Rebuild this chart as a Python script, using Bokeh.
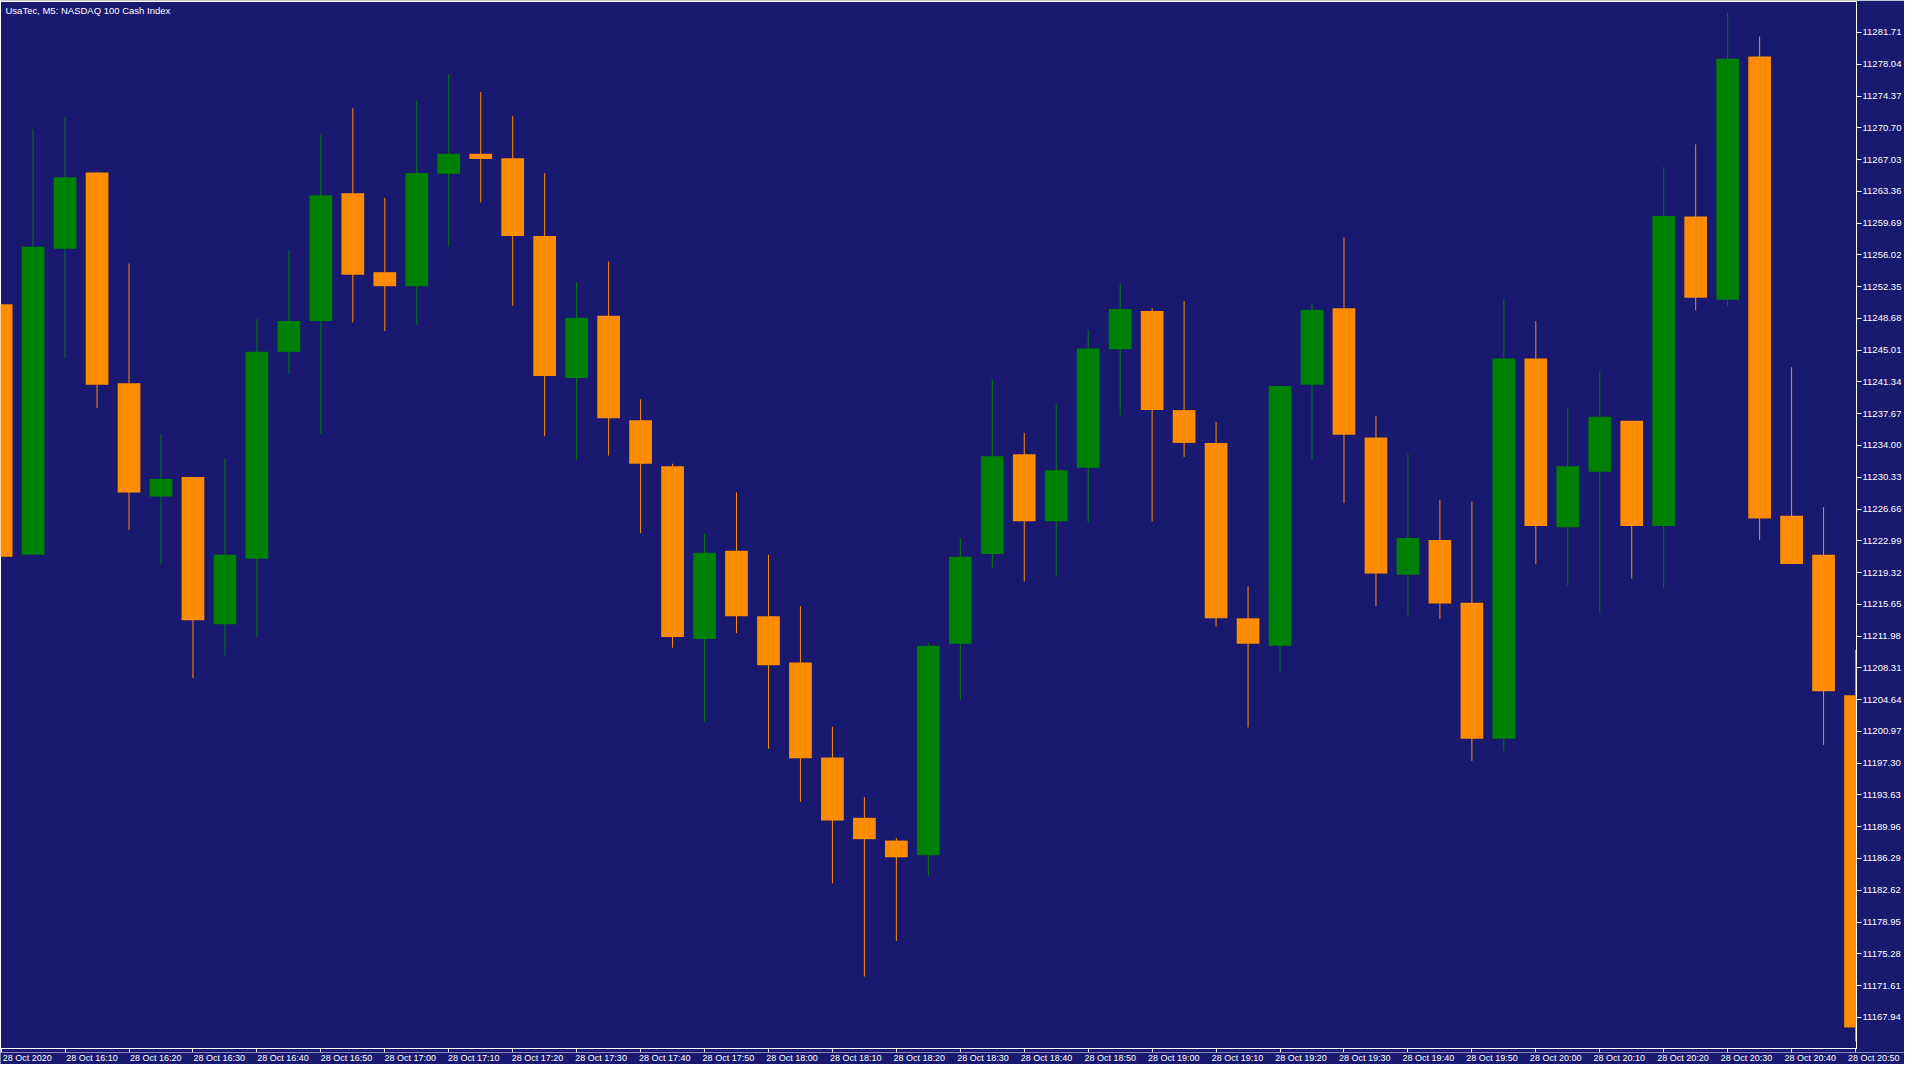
from bokeh.plotting import figure
from bokeh.layouts import column
from bokeh.models import Range1d, FixedTicker, PrintfTickFormatter, Label, ColumnDataSource
from bokeh.core.properties import value
from bokeh.embed import file_html
from bokeh.resources import INLINE

chart_title = "UsaTec, M5:  NASDAQ 100 Cash Index"

opens = [11250.31, 11221.39, 11256.73, 11265.55, 11241.18, 11228.11, 11230.36, 11213.34, 11220.92, 11244.82,
         11248.38, 11263.15, 11254.02, 11252.40, 11265.39, 11267.71, 11267.17, 11258.20, 11241.80, 11249.00,
         11236.93, 11231.59, 11211.64, 11221.85, 11214.27, 11208.93, 11197.95, 11190.99, 11188.36, 11186.66,
         11211.10, 11221.46, 11232.99, 11225.25, 11231.44, 11245.13, 11249.54, 11238.09, 11234.30, 11214.04,
         11210.87, 11241.03, 11249.85, 11234.92, 11219.07, 11223.09, 11215.82, 11200.12, 11244.05, 11224.56,
         11230.98, 11236.85, 11224.71, 11260.44, 11250.85, 11278.93, 11225.87, 11221.39, 11205.14]

highs = [11250.31, 11270.57, 11271.96, 11265.55, 11255.03, 11235.38, 11230.36, 11232.52, 11248.61, 11256.65,
         11269.88, 11272.97, 11262.61, 11273.82, 11276.92, 11274.83, 11272.04, 11265.47, 11252.86, 11255.26,
         11239.33, 11231.90, 11223.78, 11228.58, 11221.39, 11215.43, 11201.51, 11193.39, 11188.67, 11211.18,
         11223.32, 11241.65, 11235.46, 11238.71, 11247.37, 11252.63, 11249.85, 11250.70, 11236.70, 11217.75,
         11240.87, 11250.31, 11258.04, 11237.39, 11232.99, 11227.73, 11227.50, 11250.93, 11248.38, 11238.32,
         11242.58, 11236.85, 11266.16, 11268.79, 11283.95, 11281.25, 11243.04, 11226.88, 11210.40]

lows = [11221.15, 11221.39, 11244.05, 11238.32, 11224.25, 11220.30, 11207.15, 11209.71, 11211.87, 11242.19,
        11235.31, 11248.22, 11247.22, 11247.91, 11256.96, 11262.07, 11250.16, 11235.07, 11232.37, 11232.83,
        11223.86, 11210.64, 11202.13, 11212.34, 11198.96, 11192.85, 11183.41, 11172.66, 11176.76, 11184.18,
        11204.68, 11219.84, 11218.29, 11218.83, 11225.10, 11237.47, 11225.25, 11232.68, 11213.11, 11201.43,
        11207.77, 11232.37, 11227.34, 11215.43, 11214.35, 11213.96, 11197.56, 11198.72, 11220.30, 11217.83,
        11214.66, 11218.60, 11217.60, 11249.61, 11250.08, 11223.09, 11220.30, 11199.42, 11165.16]

closes = [11221.15, 11256.96, 11265.00, 11241.03, 11228.58, 11230.12, 11213.81, 11221.39, 11244.82, 11248.38,
          11262.92, 11253.71, 11252.40, 11265.47, 11267.71, 11267.09, 11258.20, 11242.03, 11248.76, 11237.16,
          11231.90, 11211.87, 11221.62, 11214.27, 11208.62, 11197.87, 11190.68, 11188.52, 11186.43, 11210.87,
          11221.15, 11232.75, 11225.25, 11231.13, 11245.21, 11249.77, 11238.09, 11234.30, 11214.04, 11211.10,
          11240.87, 11249.69, 11235.23, 11219.22, 11223.32, 11215.74, 11200.12, 11244.05, 11224.71, 11231.59,
          11237.32, 11224.71, 11260.52, 11251.08, 11278.69, 11225.56, 11220.30, 11205.61, 11166.78]

y_tick_values = [11167.94, 11171.61, 11175.28, 11178.95, 11182.62, 11186.29, 11189.96, 11193.63,
                 11197.30, 11200.97, 11204.64, 11208.31, 11211.98, 11215.65, 11219.32, 11222.99,
                 11226.66, 11230.33, 11234.00, 11237.67, 11241.34, 11245.01, 11248.68, 11252.35,
                 11256.02, 11259.69, 11263.36, 11267.03, 11270.70, 11274.37, 11278.04, 11281.71]

x_tick_labels = ["28 Oct 2020", "28 Oct 16:10", "28 Oct 16:20", "28 Oct 16:30", "28 Oct 16:40",
                 "28 Oct 16:50", "28 Oct 17:00", "28 Oct 17:10", "28 Oct 17:20", "28 Oct 17:30",
                 "28 Oct 17:40", "28 Oct 17:50", "28 Oct 18:00", "28 Oct 18:10", "28 Oct 18:20",
                 "28 Oct 18:30", "28 Oct 18:40", "28 Oct 18:50", "28 Oct 19:00", "28 Oct 19:10",
                 "28 Oct 19:20", "28 Oct 19:30", "28 Oct 19:40", "28 Oct 19:50", "28 Oct 20:00",
                 "28 Oct 20:10", "28 Oct 20:20", "28 Oct 20:30", "28 Oct 20:40", "28 Oct 20:50"]
bars_per_label = 2

BG = "#191970"
BULL = "#008000"
BEAR = "#FF8C00"
FG = "#FFFFFF"
FONT = "Liberation Sans"

# layout (pixels)
W = 1904
MAIN_H = 1052
STRIP_H = 12
BORDER_L = 0
BORDER_B = 4

n = len(opens)
idx = list(range(n))
colors = [BULL if c >= o else BEAR for o, c in zip(opens, closes)]
source = ColumnDataSource(dict(
    x=idx, high=highs, low=lows,
    top=[max(o, c) for o, c in zip(opens, closes)],
    bottom=[min(o, c) for o, c in zip(opens, closes)],
    color=colors,
))

x_lo, x_hi = -0.02, (n - 1) + 0.03
y_lo, y_hi = 11164.34, 11285.29

p = figure(width=W, height=MAIN_H,
           x_range=Range1d(x_lo, x_hi), y_range=Range1d(y_lo, y_hi),
           y_axis_location="right", toolbar_location=None, output_backend="svg",
           min_border_left=BORDER_L, min_border_top=1, min_border_bottom=BORDER_B,
           min_border_right=0,
           background_fill_color=BG, border_fill_color=BG)
p.frame_align = False
p.outline_line_color = FG
p.outline_line_width = 1
p.xgrid.visible = False
p.ygrid.visible = False

p.segment(x0="x", y0="low", x1="x", y1="high", line_color="color", line_width=1, source=source)
p.vbar(x="x", width=0.71, top="top", bottom="bottom", fill_color="color", line_color=None, source=source)

# right price axis
ya = p.yaxis[0]
ya.ticker = FixedTicker(ticks=y_tick_values)
ya.formatter = PrintfTickFormatter(format="%.2f")
ya.axis_line_color = FG
ya.major_tick_line_color = FG
ya.major_tick_out = 5
ya.major_tick_in = 0
ya.minor_tick_line_color = None
ya.major_label_text_color = FG
ya.major_label_text_font = FONT
ya.major_label_text_font_size = "9.5px"
ya.major_label_standoff = 1

# bottom time axis: tick marks only (labels go in the strip below, left-aligned)
tick_pos = list(range(0, n, bars_per_label))
xa = p.xaxis[0]
xa.ticker = FixedTicker(ticks=tick_pos)
xa.axis_line_color = FG
xa.major_tick_line_color = FG
xa.major_tick_out = 4
xa.major_tick_in = 0
xa.minor_tick_line_color = None
xa.major_label_text_color = None
xa.major_label_text_font_size = "1px"
xa.major_label_standoff = 0

p.add_layout(Label(x=x_lo, y=y_hi, x_offset=5, y_offset=-3, text=chart_title,
                   text_align="left", text_baseline="top",
                   text_color=FG, text_font=FONT, text_font_size="9.5px"))

# label strip with the same horizontal scale, extending under the price axis
AXIS_W_EST = 57
main_frame_w = W - BORDER_L - AXIS_W_EST
strip_frame_w = W - BORDER_L
units_per_px = (x_hi - x_lo) / main_frame_w
strip = figure(width=W, height=STRIP_H,
               x_range=Range1d(x_lo, x_lo + strip_frame_w * units_per_px), y_range=Range1d(0, 1),
               x_axis_location=None, y_axis_location=None,
               toolbar_location=None, output_backend="svg",
               min_border_left=BORDER_L, min_border_right=0, min_border_top=0, min_border_bottom=0,
               background_fill_color=BG, border_fill_color=BG)
strip.frame_align = False
strip.outline_line_color = None
strip.xgrid.visible = False
strip.ygrid.visible = False
label_src = ColumnDataSource(dict(x=tick_pos, y=[1] * len(tick_pos), text=x_tick_labels))
strip.text(x="x", y="y", text="text", source=label_src, x_offset=1.5, y_offset=0,
           text_align="left", text_baseline="top", text_color=FG,
           text_font=value(FONT), text_font_size=value("9px"))

page = column(p, strip, spacing=0)
open("out.html", "w").write(file_html(page, INLINE))
